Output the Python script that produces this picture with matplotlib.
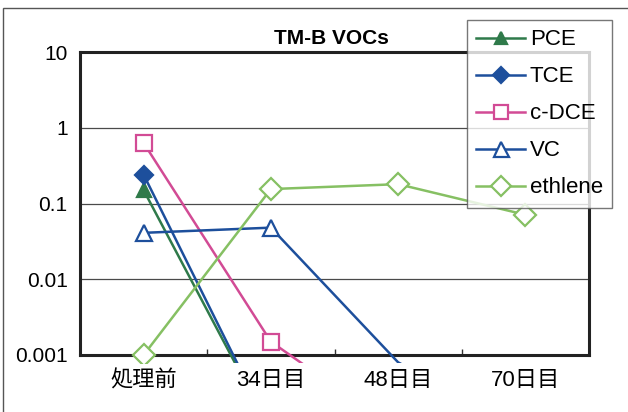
import matplotlib
matplotlib.use("Agg")
import matplotlib.pyplot as plt
from matplotlib.patches import Rectangle
from matplotlib.lines import Line2D
from matplotlib.ticker import FixedLocator, NullFormatter

plt.rcParams['font.family'] = ['Liberation Sans', 'Noto Sans CJK JP', 'DejaVu Sans']

categories = ['処理前', '34日目', '48日目', '70日目']
pce = [0.15, 0.0001, 0.0001, 0.0001]
tce = [0.24, 0.0001, 0.0001, 0.0001]
cdce = [0.63, 0.0015, 0.0001, 0.0001]
vc = [0.041, 0.048, 0.0008, 0.0001]
ethlene = [0.001, 0.155, 0.18, 0.071]
ytick_vals = [0.001, 0.01, 0.1, 1, 10]
ytick_labels = ['0.001', '0.01', '0.1', '1', '10']
title = 'TM-B VOCs'

W, H = 628, 412
fig = plt.figure(figsize=(W / 100, H / 100), dpi=100)
fig.patch.set_facecolor('white')

# outer chart border (left and top edges visible)
fig.add_artist(Rectangle((3 / W, -0.2), 1.5, 1.2 - 8 / H,
                         transform=fig.transFigure, fill=False,
                         edgecolor='#555555', lw=1.0))

left, right, top, bottom = 80, 589, 52, 355
ax = fig.add_axes([left / W, 1 - bottom / H, (right - left) / W, (bottom - top) / H])
ax.set_yscale('log')
ymin, ymax = 0.001, 10
ax.set_ylim(ymin, ymax)
x = list(range(len(categories)))
ax.set_xlim(-0.5, len(categories) - 0.5)

for v in [0.01, 0.1, 1]:
    ax.axhline(v, color='#4a4a4a', lw=0.9, zorder=1)

# lines may run a little below the plot floor
clip = Rectangle((0, -8 / (bottom - top)), 1, 1 + 8 / (bottom - top),
                 transform=ax.transAxes, visible=False)
ax.add_patch(clip)

series = [
    ('PCE', pce, '#2f7a4a', '^', '#2f7a4a', 10),
    ('TCE', tce, '#1d4f9c', 'D', '#1d4f9c', 9),
    ('c-DCE', cdce, '#d24b95', 's', 'white', 11.5),
    ('VC', vc, '#1d4f9c', '^', 'white', 12),
    ('ethlene', ethlene, '#86c063', 'D', 'white', 11),
]
handles = []
for name, vals, col, mk, fc, ms in series:
    shown = [i for i, v in enumerate(vals) if v >= ymin]
    ln, = ax.plot(x, vals, color=col, lw=1.8, marker=mk, ms=ms,
                  markerfacecolor=fc, markeredgecolor=col, markeredgewidth=1.6,
                  markevery=shown, zorder=3)
    ln.set_clip_path(clip)
    handles.append(Line2D([], [], color=col, lw=1.8, marker=mk, ms=ms * 0.9,
                          markerfacecolor=fc, markeredgecolor=col,
                          markeredgewidth=1.6, label=name))

ax.yaxis.set_major_locator(FixedLocator(ytick_vals))
ax.set_yticks(ytick_vals)
ax.set_yticklabels(ytick_labels, fontsize=15)
ax.yaxis.set_minor_formatter(NullFormatter())
ax.tick_params(axis='y', which='both', length=0, pad=9)
ax.set_xticks(x)
ax.set_xticklabels(categories, fontsize=16)
ax.tick_params(axis='x', which='major', length=0, pad=11)
ax.set_xticks([0.5, 1.5, 2.5], minor=True)
ax.tick_params(axis='x', which='minor', direction='in', length=4, width=1, color='#333333')

for sp in ax.spines.values():
    sp.set_linewidth(2.2)
    sp.set_color('#222222')

fig.text(331 / W, 1 - 39 / H, title, ha='center', va='center',
         fontsize=15, fontweight='bold')

leg = fig.legend(handles=handles, loc='upper left',
                 bbox_to_anchor=(467 / W, 1 - 20 / H), fontsize=16,
                 frameon=True, fancybox=False, shadow=False,
                 handlelength=2.2, labelspacing=0.72, handletextpad=0.2,
                 borderpad=0.42, borderaxespad=0)
leg.get_frame().set_edgecolor('#555555')
leg.get_frame().set_linewidth(1.0)
leg.set_zorder(10)

fig.savefig('out.png', dpi=100, facecolor='white')
